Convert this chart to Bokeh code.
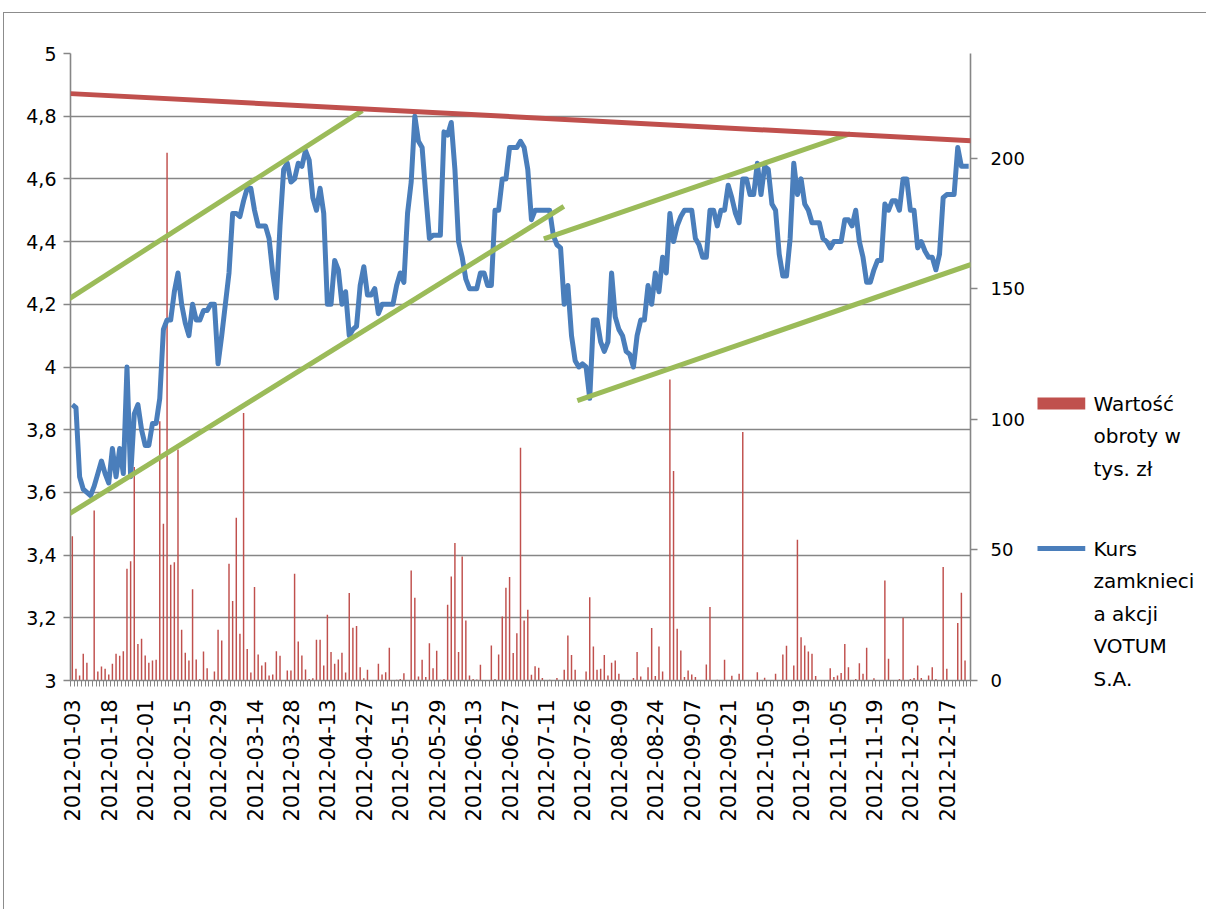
from math import pi
import pandas as pd
from bokeh.plotting import figure
from bokeh.layouts import row
from bokeh.models import (Range1d, LinearAxis, FixedTicker, PolyAnnotation,
                          ColumnDataSource)
from bokeh.embed import file_html
from bokeh.resources import INLINE

# ---------------- data ----------------
closed_days = ["2012-01-06", "2012-04-06", "2012-04-09", "2012-05-01", "2012-05-03",
               "2012-06-07", "2012-08-15", "2012-11-01", "2012-12-24", "2012-12-25",
               "2012-12-26"]
missing_days = ["2012-07-17"]
dates = [d.strftime("%Y-%m-%d") for d in pd.bdate_range("2012-01-03", "2012-12-28")]
dates = [d for d in dates if d not in closed_days and d not in missing_days]

tick_labels = ["2012-01-03", "2012-01-18", "2012-02-01", "2012-02-15", "2012-02-29",
               "2012-03-14", "2012-03-28", "2012-04-13", "2012-04-27", "2012-05-15",
               "2012-05-29", "2012-06-13", "2012-06-27", "2012-07-11", "2012-07-26",
               "2012-08-09", "2012-08-24", "2012-09-07", "2012-09-21", "2012-10-05",
               "2012-10-19", "2012-11-05", "2012-11-19", "2012-12-03", "2012-12-17"]

# closing price (PLN)
price = [
    3.88, 3.87, 3.65, 3.61, 3.60, 3.59, 3.62, 3.66, 3.70, 3.66,
    3.63, 3.74, 3.65, 3.74, 3.66, 4.00, 3.65, 3.85, 3.88, 3.80,
    3.75, 3.75, 3.82, 3.82, 3.90, 4.12, 4.15, 4.15, 4.24, 4.30,
    4.20, 4.14, 4.10, 4.20, 4.15, 4.15, 4.18, 4.18, 4.20, 4.20,
    4.01, 4.10, 4.20, 4.30, 4.49, 4.49, 4.48, 4.53, 4.57, 4.57,
    4.50, 4.45, 4.45, 4.45, 4.41, 4.30, 4.22, 4.45, 4.63, 4.65,
    4.59, 4.60, 4.65, 4.64, 4.69, 4.66, 4.54, 4.50, 4.57, 4.49,
    4.20, 4.20, 4.34, 4.31, 4.20, 4.24, 4.10, 4.12, 4.13, 4.26,
    4.32, 4.23, 4.23, 4.25, 4.17, 4.20, 4.20, 4.20, 4.20, 4.26,
    4.30, 4.27, 4.49, 4.59, 4.80, 4.72, 4.70, 4.55, 4.41, 4.42,
    4.42, 4.42, 4.75, 4.74, 4.78, 4.63, 4.40, 4.35, 4.28, 4.25,
    4.25, 4.25, 4.30, 4.30, 4.26, 4.26, 4.50, 4.50, 4.60, 4.60,
    4.70, 4.70, 4.70, 4.72, 4.70, 4.63, 4.47, 4.50, 4.50, 4.50,
    4.50, 4.50, 4.42, 4.39, 4.38, 4.20, 4.26, 4.10, 4.02, 4.00,
    4.01, 4.00, 3.90, 4.15, 4.15, 4.08, 4.05, 4.08, 4.30, 4.16,
    4.12, 4.10, 4.05, 4.04, 4.00, 4.10, 4.15, 4.15, 4.26, 4.20,
    4.30, 4.24, 4.35, 4.30, 4.49, 4.40, 4.45, 4.48, 4.50, 4.50,
    4.50, 4.41, 4.39, 4.35, 4.35, 4.50, 4.50, 4.45, 4.50, 4.50,
    4.58, 4.54, 4.49, 4.46, 4.60, 4.60, 4.55, 4.55, 4.65, 4.55,
    4.64, 4.63, 4.52, 4.50, 4.36, 4.29, 4.29, 4.41, 4.65, 4.55,
    4.60, 4.52, 4.50, 4.46, 4.46, 4.46, 4.41, 4.40, 4.38, 4.40,
    4.40, 4.40, 4.47, 4.47, 4.45, 4.50, 4.40, 4.35, 4.27, 4.27,
    4.31, 4.34, 4.34, 4.52, 4.50, 4.53, 4.53, 4.50, 4.60, 4.60,
    4.50, 4.50, 4.38, 4.40, 4.37, 4.35, 4.35, 4.31, 4.36, 4.54,
    4.55, 4.55, 4.55, 4.70, 4.64, 4.64, 4.64,
]

# turnover value (thousand PLN)
turnover = [
    55.2, 4.5, 1.9, 10.2, 6.8, 0, 65.1, 3.4, 5.4, 4.5,
    2.3, 6.4, 10.2, 9.5, 11.2, 42.8, 45.6, 81.7, 14.0, 16.0,
    9.6, 6.8, 7.7, 7.9, 99.2, 60.0, 202, 44.3, 45.3, 88.4,
    19.4, 10.6, 7.7, 34.9, 8.0, 0.6, 11.1, 4.7, 0, 3.4,
    19.4, 15.3, 0.4, 44.7, 30.4, 62.3, 17.9, 102.4, 12.1, 3.1,
    35.8, 10.0, 5.7, 7.0, 1.9, 2.3, 11.2, 9.5, 0, 3.8,
    3.8, 40.9, 14.9, 9.6, 4.2, 0.6, 0.9, 15.6, 15.6, 5.7,
    25.2, 10.9, 6.4, 8.0, 10.6, 3.1, 33.5, 20.2, 20.9, 5.1,
    0.9, 4.1, 0, 0, 6.4, 2.3, 3.2, 12.5, 0, 0.3,
    0.6, 2.8, 0, 42.1, 31.7, 1.5, 7.9, 1.3, 14.3, 4.7,
    11.4, 0.3, 0.6, 29.0, 39.8, 52.6, 10.9, 47.5, 23.0, 1.9,
    0.6, 0.4, 6.0, 0, 0, 13.4, 0.6, 10.0, 24.5, 35.5,
    39.6, 10.5, 18.1, 89.1, 23.0, 27.1, 2.2, 5.5, 4.9, 1.0,
    0, 0.3, 0, 1.0, 0, 4.1, 17.2, 9.8, 4.1, 0,
    0, 3.4, 31.9, 13.0, 4.1, 4.5, 9.8, 1.9, 6.8, 7.7,
    2.6, 0, 0, 0, 1.0, 10.9, 1.5, 0, 5.1, 20.1,
    1.7, 13.0, 3.4, 0, 115.2, 80.2, 19.8, 11.5, 1.3, 3.8,
    2.3, 1.3, 0, 0, 6.1, 28.1, 0, 0.3, 0, 7.9,
    0, 1.8, 0, 2.6, 95.1, 0, 0, 0, 3.2, 0,
    1.1, 0, 0, 2.6, 0, 10.0, 13.3, 0, 5.7, 53.9,
    16.6, 13.4, 11.1, 10.2, 1.7, 0, 0, 0, 4.7, 1.3,
    1.9, 2.9, 14.0, 5.1, 0, 0.6, 6.6, 2.6, 12.5, 0,
    0.9, 0, 0, 38.3, 8.3, 0, 0, 0.6, 24.0, 0,
    0.6, 1.0, 5.7, 1.0, 0, 1.9, 5.1, 0.6, 0, 43.4,
    4.5, 0, 0, 22.0, 33.6, 7.7, 0,
]

left_ticks = [3, 3.2, 3.4, 3.6, 3.8, 4, 4.2, 4.4, 4.6, 4.8, 5]
left_labels = ["3", "3,2", "3,4", "3,6", "3,8", "4", "4,2", "4,4", "4,6", "4,8", "5"]
right_ticks = [0, 50, 100, 150, 200]

# hand-drawn trend lines: (category position, price) start and end
resistance_line = [(-0.5, 4.872), (256.1, 4.716)]
channel_lines = [
    [(-2.3, 4.207), (79.6, 4.818)],
    [(-2.3, 3.521), (134.9, 4.512)],
    [(129.4, 4.409), (213.5, 4.744)],
    [(138.6, 3.893), (246.7, 4.327)],
]

series_labels = [["Wartość", "obroty w", "tys. zł"],
                 ["Kurs", "zamknieci", "a akcji", "VOTUM", "S.A."]]

# ---------------- style ----------------
FONT = "DejaVu Sans"
RED = "#C0504D"
BLUE = "#4A7EBB"
GREEN = "#9BBB59"
GRAY = "#868686"
BORDER = "#8c8c8c"

n = len(dates)
idx = list(range(n))
src = ColumnDataSource(dict(x=idx, price=price, turnover=turnover))

FRAME_L, FRAME_T, FRAME_W, FRAME_H, RIGHT_B, BOTTOM_B = 70, 53, 900, 627, 60, 229

p = figure(frame_width=FRAME_W, frame_height=FRAME_H,
           min_border_left=FRAME_L, min_border_right=RIGHT_B,
           min_border_top=FRAME_T, min_border_bottom=BOTTOM_B,
           x_range=Range1d(-0.5, n - 0.5), y_range=Range1d(3, 5),
           output_backend="svg", toolbar_location=None)
p.outline_line_color = None
p.background_fill_color = "white"
p.border_fill_color = "white"
p.extra_y_ranges = {"vol": Range1d(0, 240)}
p.stylesheets = [":host::after { content: ''; position: absolute; left: 3px; top: 12px;"
                 " right: 0px; bottom: -10px; border-left: 1px solid " + BORDER + ";"
                 " border-top: 1px solid " + BORDER + "; pointer-events: none; }"]

# grid
p.xgrid.grid_line_color = None
p.ygrid.ticker = FixedTicker(ticks=left_ticks)
p.ygrid.grid_line_color = GRAY
p.ygrid.grid_line_width = 1.6

# left axis
ya = p.yaxis[0]
ya.ticker = FixedTicker(ticks=left_ticks)
ya.major_label_overrides = dict(zip(left_ticks, left_labels))
ya.axis_line_color = GRAY
ya.axis_line_width = 1.6
ya.major_tick_line_color = GRAY
ya.major_tick_line_width = 1.6
ya.major_tick_out = 7
ya.major_tick_in = 0
ya.minor_tick_line_color = None
ya.major_label_standoff = 7
ya.major_label_text_font = FONT
ya.major_label_text_font_size = "19px"
ya.major_label_text_color = "black"

# right axis
ra = LinearAxis(y_range_name="vol", ticker=FixedTicker(ticks=right_ticks))
ra.axis_line_color = GRAY
ra.axis_line_width = 1.6
ra.major_tick_line_color = GRAY
ra.major_tick_line_width = 1.6
ra.major_tick_out = 7
ra.major_tick_in = 0
ra.minor_tick_line_color = None
ra.major_label_standoff = 13
ra.major_label_text_font = FONT
ra.major_label_text_font_size = "18px"
ra.major_label_text_color = "black"
p.add_layout(ra, "right")

# bottom axis
tick_pos = [dates.index(t) for t in tick_labels]
xa = p.xaxis[0]
xa.ticker = FixedTicker(ticks=tick_pos, minor_ticks=[i - 0.5 for i in range(n + 1)])
xa.major_label_overrides = {i: dates[i] for i in tick_pos}
xa.major_label_orientation = pi / 2
xa.axis_line_color = GRAY
xa.axis_line_width = 1.6
xa.major_tick_out = 0
xa.major_tick_in = 0
xa.minor_tick_line_color = GRAY
xa.minor_tick_line_width = 1
xa.minor_tick_out = 6
xa.minor_tick_in = 0
xa.major_label_standoff = 13
xa.major_label_text_font = FONT
xa.major_label_text_font_size = "21px"
xa.major_label_text_color = "black"

# series
bars = p.vbar(x="x", top="turnover", width=0.4, source=src, y_range_name="vol",
              fill_color=RED, line_color=None)
line = p.line(x="x", y="price", source=src, line_width=5, line_color=BLUE,
              line_join="round")

# trend lines drawn over the chart
for (x0, y0), (x1, y1) in channel_lines:
    p.add_layout(PolyAnnotation(xs=[x0, x1], ys=[y0, y1], line_color=GREEN,
                                line_alpha=1.0, line_width=5, line_join="bevel",
                                fill_color=None, fill_alpha=0, level="overlay"))
(x0, y0), (x1, y1) = resistance_line
p.add_layout(PolyAnnotation(xs=[x0, x1], ys=[y0, y1], line_color=RED,
                            line_alpha=1.0, line_width=5, line_join="bevel",
                            fill_color=None, fill_alpha=0, level="overlay"))

# ---------------- legend panel (page pixels, y downwards) ----------------
LEG_X0 = FRAME_L + FRAME_W + RIGHT_B          # 1030
SWATCH_L, SWATCH_R = 1037, 1085
LINE_PITCH = 32.5
first_line_y = [403, 548]

lg = figure(frame_width=SWATCH_R - LEG_X0, frame_height=FRAME_H,
            min_border_left=0, min_border_right=1206 - SWATCH_R,
            min_border_top=FRAME_T, min_border_bottom=BOTTOM_B,
            x_range=Range1d(LEG_X0, SWATCH_R),
            y_range=Range1d(FRAME_T + FRAME_H, FRAME_T),
            y_axis_location="right",
            output_backend="svg", toolbar_location=None)
lg.xaxis.visible = False
lg.grid.grid_line_color = None
lg.outline_line_color = None
lg.background_fill_color = "white"
lg.border_fill_color = "white"
lg.stylesheets = [":host::after { content: ''; position: absolute; left: 0px; top: 12px;"
                  " right: 0px; height: 0px; border-top: 1px solid " + BORDER + ";"
                  " pointer-events: none; }"]

lg.quad(left=[SWATCH_L], right=[SWATCH_R],
        top=[first_line_y[0] - 6], bottom=[first_line_y[0] + 6],
        fill_color=RED, line_color=None)
lg.line(x=[SWATCH_L, SWATCH_R], y=[first_line_y[1], first_line_y[1]],
        line_color=BLUE, line_width=5)

# legend entries: one text row per wrapped line, placed next to its swatch
rows_y, rows_text = [], []
for y0, lines in zip(first_line_y, series_labels):
    for k, txt in enumerate(lines):
        rows_y.append(y0 + k * LINE_PITCH)
        rows_text.append(txt)
la = lg.yaxis[0]
la.ticker = FixedTicker(ticks=rows_y)
la.major_label_overrides = dict(zip(rows_y, rows_text))
la.axis_line_color = None
la.major_tick_line_color = None
la.minor_tick_line_color = None
la.major_tick_out = 0
la.major_tick_in = 0
la.minor_tick_out = 0
la.major_label_standoff = 8
la.major_label_text_font = FONT
la.major_label_text_font_size = "20px"
la.major_label_text_color = "black"

layout = row(p, lg)
open("out.html", "w").write(file_html(layout, INLINE))
